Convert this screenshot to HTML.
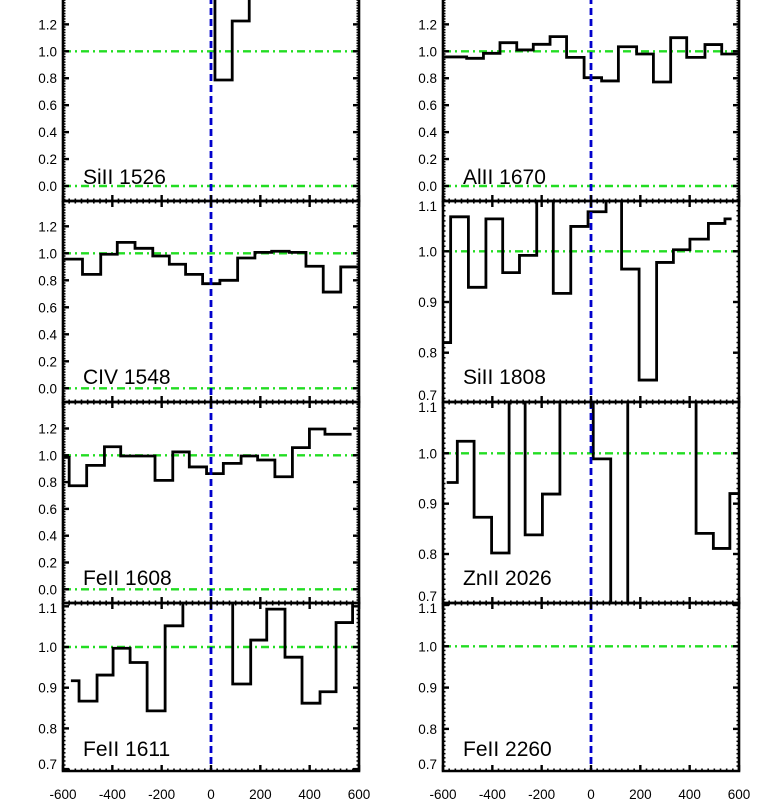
<!DOCTYPE html>
<html><head><meta charset="utf-8"><style>
html,body{margin:0;padding:0;background:#fff;}
svg{display:block;font-family:"Liberation Sans",Arial,sans-serif;}
</style></head><body>
<svg id="c" width="761" height="807" viewBox="0 0 761 807"></svg>
<script>
// ---- data (velocity bin edges in km/s, normalized flux per bin) ----
const labels = ["SiII 1526","AlII 1670","CIV 1548","SiII 1808","FeII 1608","ZnII 2026","FeII 1611","FeII 2260"];
const edgesSiII1526 = [-600,16,86,155,600];
const fluxSiII1526 = [1.6,0.787,1.225,1.6];
const edgesAlII1670 = [-598,-504,-436,-369,-301,-234,-166,-99,-28,43,111,185,253,323,388,462,530,597];
const fluxAlII1670 = [0.958,0.948,0.985,1.064,1.01,1.052,1.109,0.955,0.804,0.78,1.034,0.98,0.772,1.101,0.955,1.05,0.98];
const edgesCIV1548 = [-598,-521,-447,-380,-308,-236,-169,-103,-34,36,108,178,246,317,385,455,526,597];
const fluxCIV1548 = [0.957,0.844,0.993,1.081,1.037,0.98,0.919,0.844,0.775,0.80,0.965,1.007,1.015,1.007,0.904,0.713,0.899];
const edgesSiII1808 = [-598,-569,-497,-426,-358,-290,-220,-153,-82,-12,61,124,195,266,334,401,476,543,570];
const fluxSiII1808 = [0.82,1.068,0.929,1.064,0.958,0.992,1.2,0.917,1.049,1.078,1.2,0.965,0.746,0.978,1.003,1.024,1.055,1.064];
const edgesFeII1608 = [-598,-575,-504,-432,-366,-227,-155,-88,-18,50,122,189,259,330,399,462,570];
const fluxFeII1608 = [0.985,0.773,0.925,1.064,0.995,0.813,1.025,0.913,0.863,0.94,0.995,0.965,0.84,1.057,1.196,1.157];
const edgesZnII2026 = [-585,-542,-474,-403,-332,-267,-197,-126,9,80,149,426,496,563,597];
const fluxZnII2026 = [0.942,1.024,0.873,0.802,1.2,0.838,0.919,1.2,0.989,0.6,1.2,0.841,0.811,0.92];
const edgesFeII1611 = [-568,-535,-462,-397,-328,-259,-186,-114,88,161,226,300,369,442,507,574,600];
const fluxFeII1611 = [0.917,0.867,0.931,0.997,0.962,0.843,1.052,1.2,0.909,1.017,1.093,0.975,0.862,0.890,1.060,1.2];
const edgesFeII2260 = [];
const fluxFeII2260 = [];
const xTicks = [-600,-400,-200,0,200,400,600];
const yTicksWide = [0.0,0.2,0.4,0.6,0.8,1.0,1.2];
const yTicksNarrow = [0.7,0.8,0.9,1.0,1.1];

// ---- layout ----
const NS="http://www.w3.org/2000/svg";
const svg=document.getElementById('c');
function mk(tag,attrs,parent){const e=document.createElementNS(NS,tag);for(const k in attrs)e.setAttribute(k,attrs[k]);(parent||svg).appendChild(e);return e;}
const cols=[{x0:63,x1:359,lab:57},{x0:443,x1:739,lab:437}];
const panels=[
 {col:0,top:-3,bot:201,va:1,pa:51.3,vb:0,pb:186,ticks:yTicksWide,edges:edgesSiII1526,flux:fluxSiII1526,li:0,ly:184},
 {col:1,top:-3,bot:201,va:1,pa:51.3,vb:0,pb:186,ticks:yTicksWide,edges:edgesAlII1670,flux:fluxAlII1670,li:1,ly:184},
 {col:0,top:201,bot:402,va:1,pa:253.3,vb:0,pb:388.3,ticks:yTicksWide,edges:edgesCIV1548,flux:fluxCIV1548,li:2,ly:384},
 {col:1,top:201,bot:402,va:1,pa:251.3,vb:0.8,pb:352.7,ticks:yTicksNarrow,edges:edgesSiII1808,flux:fluxSiII1808,li:3,ly:384},
 {col:0,top:402,bot:603,va:1,pa:455.3,vb:0,pb:589.3,ticks:yTicksWide,edges:edgesFeII1608,flux:fluxFeII1608,li:4,ly:585},
 {col:1,top:402,bot:603,va:1,pa:453.3,vb:0.8,pb:554,ticks:yTicksNarrow,edges:edgesZnII2026,flux:fluxZnII2026,li:5,ly:585},
 {col:0,top:603,bot:771,va:1,pa:647,vb:0.8,pb:728.4,ticks:yTicksNarrow,edges:edgesFeII1611,flux:fluxFeII1611,li:6,ly:756},
 {col:1,top:603,bot:771,va:1,pa:646.3,vb:0.8,pb:728.9,ticks:yTicksNarrow,edges:edgesFeII2260,flux:fluxFeII2260,li:7,ly:756}
];
panels.forEach((p,i)=>{
 const c=cols[p.col];
 const X=v=>c.x0+(v+600)/1200*(c.x1-c.x0);
 const Y=v=>p.pa+(v-p.va)*(p.pb-p.pa)/(p.vb-p.va);
 const g=mk('g',{});
 
 
 const cid='clip'+i;
 const cp=mk('clipPath',{id:cid},g);mk('rect',{x:c.x0,y:p.top,width:c.x1-c.x0,height:p.bot-p.top},cp);
 [0,1].forEach(v=>{const y=Y(v);if(y>p.top&&y<p.bot){const l=mk('line',{x1:c.x0,x2:c.x1+2,y1:y,y2:y,stroke:'#22dd22','stroke-width':2.4,'stroke-dasharray':'8 4 2 4'},g);
  
  }});
 if(p.flux.length){
  let d='';
  p.flux.forEach((f,k)=>{const y=Y(f);d+=(k===0?'M':'L')+X(p.edges[k])+' '+y+' L'+X(p.edges[k+1])+' '+y+' ';});
  const s=mk('path',{d:d,fill:'none',stroke:'#000','stroke-width':2.8,'clip-path':'url(#'+cid+')'},g);
  
  
 }
 const z=mk('line',{x1:X(0),x2:X(0),y1:p.top,y2:p.bot,stroke:'#0000cc','stroke-width':2.8,'stroke-dasharray':'7 4'},g);
 
 
 const fr=mk('path',{d:`M${c.x0} ${p.top}V${p.bot}H${c.x1}V${p.top}H${c.x0}`,fill:'none',stroke:'#000','stroke-width':2.6},g);
 
 
 for(let v=-600;v<=600;v+=25){const maj=v%200===0;const L=maj?6:2.5;
  mk('line',{x1:X(v),x2:X(v),y1:p.bot,y2:p.bot-L,stroke:'#000','stroke-width':maj?2.4:1.6},g);
  if(p.top>0)mk('line',{x1:X(v),x2:X(v),y1:p.top,y2:p.top+L,stroke:'#000','stroke-width':maj?2.4:1.6},g);}
 const step=p.ticks===yTicksWide?0.02:0.01;
 for(let v=-0.2;v<=1.5;v+=step){const y=Y(v);if(y<=p.top+1||y>=p.bot-1)continue;
  const r=Math.round(v/step);const maj=(r%10===0);const L=maj?6:2.5;
  mk('line',{x1:c.x0,x2:c.x0+L,y1:y,y2:y,stroke:'#000','stroke-width':maj?2.4:1.5},g);
  mk('line',{x1:c.x1,x2:c.x1-L,y1:y,y2:y,stroke:'#000','stroke-width':maj?2.4:1.5},g);}
 p.ticks.forEach(v=>{const y=Y(v);if(y<p.top-2||y>p.bot+2)return;
  let ty=y+5;
  if(y-p.top<7)ty=p.top+10;
  if(p.bot-y<7)ty=p.bot-2;
  const t=mk('text',{x:c.lab,y:ty,'text-anchor':'end','font-size':13.5,fill:'#000'},g);t.textContent=v.toFixed(1);
  
  });
 const lt=mk('text',{x:c.x0+20,y:p.ly,'font-size':21,fill:'#000'},g);lt.textContent=labels[p.li];
 
 
});
cols.forEach(c=>{xTicks.forEach(v=>{const t=mk('text',{x:c.x0+(v+600)/1200*(c.x1-c.x0),y:799,'text-anchor':'middle','font-size':13.5,fill:'#000'});t.textContent=String(v);
 
 });});
</script>
</body></html>
